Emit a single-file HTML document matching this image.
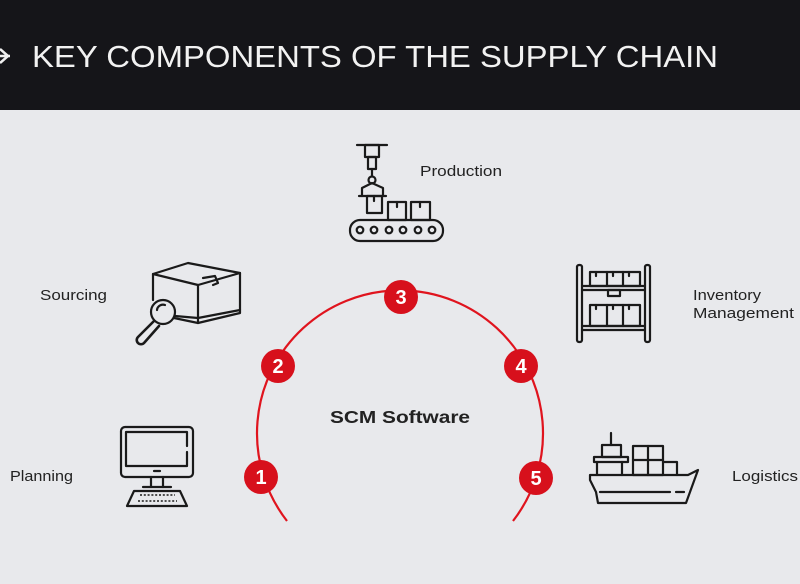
<!DOCTYPE html>
<html><head><style>
body{margin:0;width:800px;height:579px;overflow:hidden;background:#e8e9ec;font-family:"Liberation Sans",sans-serif}
</style></head><body>
<svg width="800" height="579" viewBox="0 0 800 579" xmlns="http://www.w3.org/2000/svg">
<rect x="0" y="0" width="800" height="110" fill="#151519"/>
<rect x="0" y="110" width="800" height="469" fill="#e8e9ec"/>
<g stroke="#f0f0f0" stroke-width="2.5" fill="none"><path d="M0 49 L8 56 L0 63"/><path d="M0 56 H10"/></g>
<text x="32" y="67" fill="#f2f2f2" font-size="31" font-weight="300" textLength="686" lengthAdjust="spacingAndGlyphs">KEY COMPONENTS OF THE SUPPLY CHAIN</text>
<g font-size="15" fill="#222">
<text x="420" y="176" textLength="82" lengthAdjust="spacingAndGlyphs">Production</text>
<text x="40" y="300" textLength="67" lengthAdjust="spacingAndGlyphs">Sourcing</text>
<text x="693" y="300" textLength="68" lengthAdjust="spacingAndGlyphs">Inventory</text>
<text x="693" y="318" textLength="101" lengthAdjust="spacingAndGlyphs">Management</text>
<text x="10" y="481" textLength="63" lengthAdjust="spacingAndGlyphs">Planning</text>
<text x="732" y="481" textLength="66" lengthAdjust="spacingAndGlyphs">Logistics</text>
</g>
<text x="330" y="423" font-size="17.5" font-weight="bold" fill="#222" textLength="140" lengthAdjust="spacingAndGlyphs">SCM Software</text>
<path d="M287 521 A143 143 0 1 1 513 521" stroke="#e0141e" stroke-width="2.2" fill="none"/>
<g fill="#d7101c">
<circle cx="261" cy="477" r="17"/><circle cx="278" cy="366" r="17"/><circle cx="401" cy="297" r="17"/><circle cx="521" cy="366" r="17"/><circle cx="536" cy="478" r="17"/>
</g>
<g fill="#fff" font-size="20" font-weight="bold" text-anchor="middle">
<text x="261" y="484">1</text><text x="278" y="373">2</text><text x="401" y="304">3</text><text x="521" y="373">4</text><text x="536" y="485">5</text>
</g>
<g stroke="#1a1a1a" stroke-width="2.2" fill="none" stroke-linejoin="round" stroke-linecap="round">
<path d="M357 145 H387"/><rect x="365" y="145" width="14" height="12"/><rect x="368" y="157" width="8" height="12"/>
<path d="M372 169 V176"/><circle cx="372" cy="180" r="3.5"/>
<path d="M362 196 V188 L372 183 L383 188 V196"/><path d="M359 196 H386"/>
<rect x="367" y="196" width="15" height="17"/><path d="M374 196 V201"/>
<rect x="388" y="202" width="18" height="18"/><path d="M397 202 V207"/>
<rect x="411" y="202" width="19" height="18"/><path d="M420 202 V207"/>
<rect x="350" y="220" width="93" height="21" rx="10"/>
<circle cx="360" cy="230" r="3.3"/><circle cx="374" cy="230" r="3.3"/><circle cx="389" cy="230" r="3.3"/><circle cx="403" cy="230" r="3.3"/><circle cx="418" cy="230" r="3.3"/><circle cx="432" cy="230" r="3.3"/>
<path d="M153 274 L188 263 L240 273 L198 285 Z"/>
<path d="M153 274 V300 M174 318 L198 323 V285"/><path d="M240 273 V313 L198 323"/>
<path d="M175 316 L198 318 L240 310"/>
<path d="M203 278 L215 276 L218 283 L213 285"/>
<circle cx="163" cy="312" r="12"/><path d="M157 310 A6 6 0 0 1 165 305"/>
<path d="M154 321 L138 337 A3.5 3.5 0 0 0 144 343 L159 326" stroke-width="2.6"/>
<rect x="577" y="265" width="5" height="77" rx="2"/><rect x="645" y="265" width="5" height="77" rx="2"/>
<path d="M582 286 H645 M582 290 H645 M582 326 H645 M582 330 H645"/>
<rect x="590" y="272" width="50" height="14"/><path d="M607 272 V286 M623 272 V286"/>
<path d="M596 272 V276 M613 272 V276 M629 272 V276"/>
<rect x="608" y="290" width="12" height="6"/>
<rect x="590" y="305" width="50" height="21"/><path d="M607 305 V326 M623 305 V326"/>
<path d="M596 305 V309 M613 305 V309 M629 305 V309"/>
<path d="M611 433 V445"/><rect x="602" y="445" width="19" height="12"/>
<path d="M594 457 H628 V462 H594 Z"/><path d="M597 462 V475 M622 462 V475"/>
<rect x="633" y="446" width="30" height="29"/><path d="M648 446 V475 M633 460 H663"/>
<path d="M663 462 H677 V475"/>
<path d="M590 480 L590 475 L688 475 L698 470 L686 503 L598 503 L596 492 Z"/>
<path d="M600 492 H670 M676 492 H684"/>
<rect x="121" y="427" width="72" height="50" rx="4"/><path d="M126 466 V432 H187 V446 M187 452 V466 H126"/>
<path d="M154 471 H160"/><path d="M151 477 V487 M163 477 V487"/><path d="M143 487 H171"/>
<path d="M134 491 H180 L187 506 H127 Z"/>
</g>
<g stroke="#1a1a1a" stroke-width="1.6" stroke-dasharray="2 1.8">
<path d="M140 495 H175 M138 501 H177"/>
</g>
</svg>
</body></html>
